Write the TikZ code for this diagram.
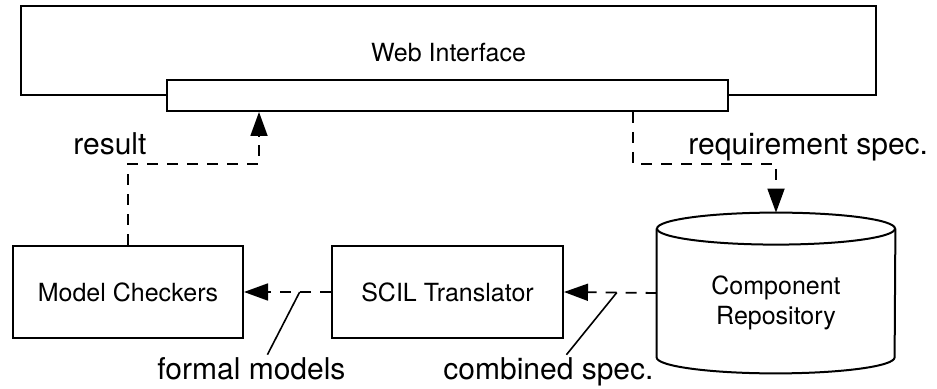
\documentclass[tikz,border=0pt]{standalone}
\usepackage{fontspec}
\setmainfont{TeX Gyre Heros}
\usetikzlibrary{arrows.meta, calc}

\begin{document}
\begin{tikzpicture}[x=0.5pt, y=-0.5pt,
      b/.style={draw=black, line width=1pt, rectangle, inner sep=0pt, font=\fontsize{12.5}{15}\selectfont},
      lab/.style={inner sep=0pt, anchor=base west, font=\fontsize{15}{18}\selectfont},
      flow/.style={line width=0.9pt, dash pattern=on 5.5pt off 4.5pt, -{Triangle[length=12pt,width=8.5pt]}},
      lead/.style={line width=0.8pt}]
      \useasboundingbox (0,0) rectangle (937,389);
      \draw node[b, minimum width=427.5pt, minimum height=44.5pt, text height=11.5pt] (web) at (448.5,50.5) {Web Interface};
      \draw node[b, fill=white, minimum width=280.5pt, minimum height=15.5pt] (ui) at (447.5,95.5) {};

      \draw node[b, minimum width=115pt, minimum height=46pt] (mc) at (128,292) {Model Checkers};
      \draw node[b, minimum width=115.5pt, minimum height=46pt] (tr) at (447.5,292) {SCIL Translator};
      \node[minimum width=119pt, minimum height=80pt] (repo) at (776,293) {};
      \draw[line width=1pt] ([yshift=-8pt]repo.north west) -- ([yshift=8pt]repo.south west) arc[start angle=180, end angle=360, x radius=59.5pt, y radius=8pt] -- ([yshift=-8pt]repo.north east);
      \draw[line width=1pt] ([yshift=-8pt]repo.north) ellipse [x radius=59.5pt, y radius=8pt];
      \node[b, draw=none, align=center] (repotxt) at (776,303) {Component\\Repository};

      \draw[flow] (mc.north) |- ([xshift=46.5pt,yshift=-26pt]ui.south west) -- ([xshift=46.5pt]ui.south west);
      \draw[flow] ([xshift=233.5pt]ui.south west) -- ++(0,52) -| (repo.north);
      \draw[flow] (tr.west) -- (mc.east);
      \draw[flow] (repo.west) -- (tr.east);

      \node[lab] (res) at (73,155) {result};
      \node[lab] (req) at (688,155) {requirement spec.};
      \node[lab] (fm) at (157,380) {formal models};
      \node[lab] (cs) at (443,380) {combined spec.};
      \coordinate (fmpt) at ($(mc.east)!0.64!(tr.west)$);
      \coordinate (cspt) at ($(tr.east)!0.57!(repo.west)$);
      \draw[lead] ([xshift=8pt,yshift=1.5pt]fm.north) -- (fmpt);
      \draw[lead] ([xshift=9pt,yshift=1.5pt]cs.north) -- (cspt);
\end{tikzpicture}
\end{document}
